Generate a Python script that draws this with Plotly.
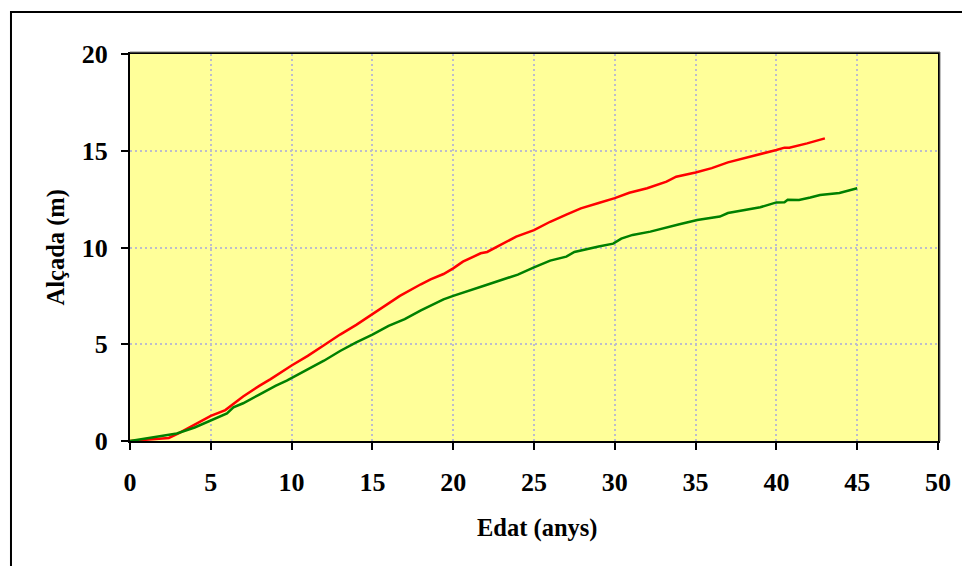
import plotly.graph_objects as go

red_x = [0, 1, 2, 2.4, 3, 4, 5, 5.9, 6.4, 7, 8, 8.7, 10, 11, 12, 13, 14, 15, 16, 16.7, 18, 18.6, 19.4, 20, 20.6, 21.7, 22.1, 23, 23.9, 25, 26, 27, 27.9, 29, 30, 30.9, 32, 33.2, 33.8, 35, 36, 37, 38, 39, 40, 40.5, 40.8, 41.9, 43]
red_y = [0, 0.07, 0.14, 0.16, 0.39, 0.84, 1.3, 1.6, 1.91, 2.3, 2.85, 3.2, 3.9, 4.4, 4.95, 5.5, 6.0, 6.55, 7.1, 7.5, 8.1, 8.35, 8.63, 8.92, 9.27, 9.7, 9.77, 10.15, 10.56, 10.9, 11.33, 11.7, 12.02, 12.3, 12.55, 12.83, 13.06, 13.4, 13.66, 13.88, 14.1, 14.4, 14.6, 14.81, 15.04, 15.16, 15.16, 15.38, 15.64]

green_x = [0, 1.4, 2.9, 4, 4.95, 6, 6.4, 7, 8, 9, 9.7, 11, 12, 13, 14, 15, 16, 17, 18, 19.4, 20, 22, 24, 25, 26, 27, 27.5, 29, 29.9, 30.4, 31.1, 32.2, 33, 34, 35.1, 36, 36.5, 37, 38, 39, 40, 40.5, 40.7, 41.4, 42.1, 42.7, 43.9, 45]
green_y = [0, 0.19, 0.39, 0.7, 1.05, 1.43, 1.74, 1.95, 2.4, 2.85, 3.12, 3.7, 4.15, 4.65, 5.1, 5.5, 5.95, 6.3, 6.75, 7.32, 7.5, 8.05, 8.6, 8.97, 9.32, 9.53, 9.77, 10.05, 10.2, 10.46, 10.65, 10.82, 11.0, 11.2, 11.42, 11.55, 11.6, 11.78, 11.92, 12.08, 12.33, 12.34, 12.47, 12.45, 12.58, 12.71, 12.82, 13.06]

x_ticks = [0, 5, 10, 15, 20, 25, 30, 35, 40, 45, 50]
y_ticks = [0, 5, 10, 15, 20]
x_title = "Edat (anys)"
y_title = "Alçada (m)"

FONT = "Liberation Serif, Times New Roman, serif"

fig = go.Figure()
fig.add_trace(go.Scatter(x=red_x, y=red_y, mode="lines",
                         line=dict(color="#FF0000", width=2.5), showlegend=False))
fig.add_trace(go.Scatter(x=green_x, y=green_y, mode="lines",
                         line=dict(color="#008000", width=2.5), showlegend=False))

axis_common = dict(
    showline=True, linecolor="black", linewidth=2, mirror=True,
    ticks="outside", ticklen=7, tickwidth=2, tickcolor="black",
    showgrid=True, gridcolor="#BDBDCC", gridwidth=2, griddash="2px,3px",
    zeroline=False,
    tickfont=dict(family=FONT, size=26, color="black", weight="bold"),
)

fig.update_xaxes(range=[0, 50], tickvals=x_ticks, ticklabelstandoff=10, **axis_common)
fig.update_yaxes(range=[0, 20], tickvals=y_ticks, ticklabelstandoff=8, **axis_common)

fig.add_annotation(text=x_title, xref="paper", yref="paper", x=0.5037, y=-0.2248,
                   showarrow=False, xanchor="center", yanchor="middle",
                   font=dict(family=FONT, size=24.5, color="black", weight="bold"))
fig.add_annotation(text=y_title, xref="paper", yref="paper", x=-0.0916, y=0.5,
                   showarrow=False, xanchor="center", yanchor="middle", textangle=-90,
                   font=dict(family=FONT, size=24.5, color="black", weight="bold"))

# outer chart border (extends beyond right/bottom of the window)
fig.add_shape(type="rect", xref="paper", yref="paper",
              x0=-0.1473, x1=1.06, y0=-0.38, y1=1.1085,
              line=dict(color="black", width=2), layer="below")

# gray shadow along top and right edges of the plot frame
dx = 2.0 / 808
dy = 2.0 / 387
fig.add_shape(type="line", xref="paper", yref="paper",
              x0=0, x1=1 + dx, y0=1 + dy, y1=1 + dy,
              line=dict(color="#808080", width=1))
fig.add_shape(type="line", xref="paper", yref="paper",
              x0=1 + dx, x1=1 + dx, y0=0, y1=1 + dy,
              line=dict(color="#808080", width=1))

fig.update_layout(
    width=962, height=566,
    margin=dict(l=130, r=24, t=54, b=125),
    paper_bgcolor="white", plot_bgcolor="#FFFF99",
)

fig.write_html("out.html")
